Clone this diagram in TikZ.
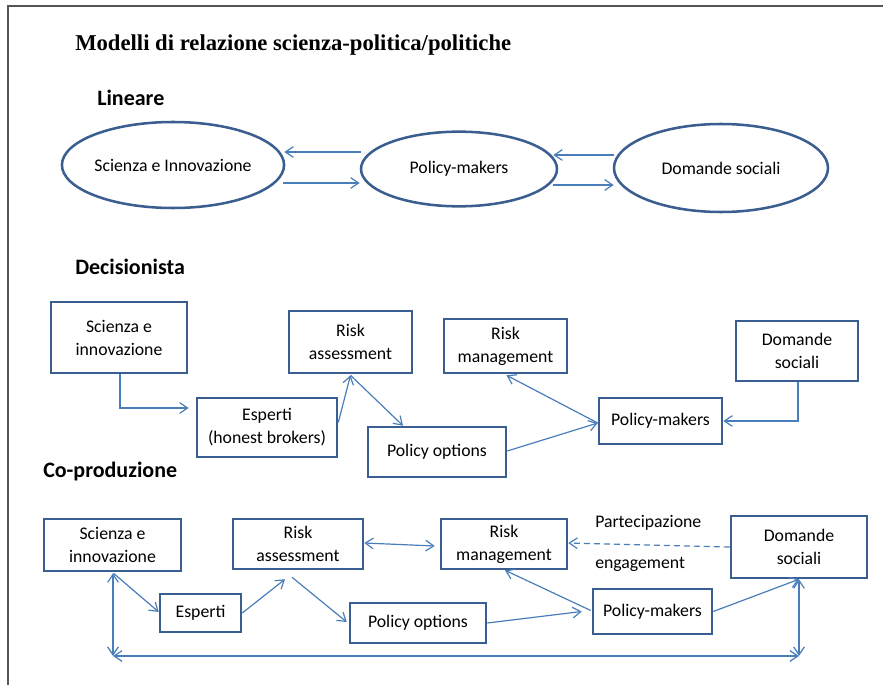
\documentclass[tikz,border=0pt]{standalone}
\usepackage{fontspec}
\setmainfont{Carlito}
\newfontfamily\titlefont{Liberation Serif}
\usetikzlibrary{arrows.meta,shapes.geometric,calc}
\definecolor{boxblue}{HTML}{3B5E91}
\definecolor{arrblue}{HTML}{4A7EBB}
\definecolor{framegray}{HTML}{555555}
\begin{document}
\begin{tikzpicture}[x=0.75pt,y=-0.75pt,
  box/.style={draw=boxblue,line width=1.9pt,inner sep=0pt,align=center,
    font=\fontsize{13.3}{17.3}\selectfont},
  ell/.style={ellipse,draw=boxblue,line width=1.9pt,inner sep=0pt,
    font=\fontsize{13.3}{17.3}\selectfont},
  arr/.style={draw=arrblue,line width=0.9pt,-{Straight Barb[length=6pt,width=8pt]}},
  darr/.style={draw=arrblue,line width=0.9pt,{Straight Barb[length=6pt,width=8pt]}-{Straight Barb[length=6pt,width=8pt]}},
  head/.style={font=\bfseries\fontsize{16.5}{20}\selectfont,anchor=west,inner sep=0pt},
  lbl/.style={font=\fontsize{13.3}{17.3}\selectfont,anchor=west,inner sep=0pt}]
\useasboundingbox (0,0) rectangle (883,685);
% frame
\draw[framegray,line width=1.5pt] (8,685) -- (8,6) -- (883,6);
% title and headings
\node[anchor=west,inner sep=0pt,font=\titlefont\bfseries\fontsize{17}{20}\selectfont] (title) at (75,45) {Modelli di relazione scienza-politica/politiche};
\node[head] (hlin) at (97,98) {Lineare};
\node[head] (hdec) at (75,267) {Decisionista};
\node[head] (hcop) at (43,472) {Co-produzione};
% ---------- Lineare ----------
\node[ell,minimum width=166.5pt,minimum height=64.5pt] (lsci) at (173,165) {Scienza e Innovazione};
\node[ell,minimum width=147pt,minimum height=56pt] (lpm) at (459,169) {Policy-makers};
\node[ell,minimum width=160.5pt,minimum height=66pt] (ldom) at (721,168) {Domande sociali};
\draw[arr] ($(lpm.west)+(1,-17)$) -- ($(lsci.east)+(-1,-13)$);
\draw[arr] ($(lsci.east)+(-2,18)$) -- ($(lpm.west)+(0,14)$);
\draw[arr] ($(ldom.west)+(1,-13)$) -- ($(lpm.east)+(-5,-14)$);
\draw[arr] ($(lpm.east)+(-5,16)$) -- ($(ldom.west)+(1,17)$);
% ---------- Decisionista ----------
\node[box,minimum width=102pt,minimum height=53.25pt] (dsci) at (119,337.5) {Scienza e\\innovazione};
\node[box,minimum width=92.25pt,minimum height=46.5pt] (dra) at (350.5,342) {Risk\\assessment};
\node[box,minimum width=105pt,minimum height=44.25pt] (desp) at (267,427.5) {Esperti\\(honest brokers)};
\node[box,minimum width=103.5pt,minimum height=37.5pt] (dpo) at (437,452) {Policy options};
\node[box,minimum width=92.25pt,minimum height=40.5pt] (drm) at (505.5,346) {Risk\\management};
\node[box,minimum width=92.25pt,minimum height=34.5pt] (dpm) at (660.5,421) {Policy-makers};
\node[box,minimum width=91.5pt,minimum height=45pt] (ddom) at (797,351) {Domande\\sociali};
\draw[arr] ($(dsci.south)+(1,0)$) |- ($(desp.west)+(-7,-19.5)$);
\draw[arr] ($(desp.east)+(0,-5)$) -- ($(dra.south)+(0,1)$);
\draw[arr] ($(dra.south)+(0,1)$) -- ($(dpo.north)+(-34,0)$);
\draw[arr] ($(dpo.east)+(0,-1)$) -- ($(dpm.west)+(0,2)$);
\draw[arr] ($(dpm.west)+(0,2)$) -- ($(drm.south)+(1,1)$);
\draw[arr] ($(ddom.south)+(1,0)$) |- (dpm.east);
% ---------- Co-produzione ----------
\node[box,minimum width=102.75pt,minimum height=39pt] (csci) at (112.5,545) {Scienza e\\innovazione};
\node[box,minimum width=97.5pt,minimum height=37.5pt] (cra) at (298,544) {Risk\\assessment};
\node[box,minimum width=60.75pt,minimum height=28.5pt] (cesp) at (200.5,613) {Esperti};
\node[box,minimum width=102pt,minimum height=30pt] (cpo) at (418,623) {Policy options};
\node[box,minimum width=94.5pt,minimum height=37.5pt] (crm) at (504,544) {Risk\\management};
\node[box,minimum width=89.25pt,minimum height=33.75pt] (cpm) at (652.5,611.5) {Policy-makers};
\node[box,minimum width=102pt,minimum height=46.5pt] (cdom) at (799,547) {Domande\\sociali};
\node[lbl] (part) at (595,523) {Partecipazione};
\node[lbl] (eng) at (595,564) {engagement};
\coordinate (bl) at (113,656);
\coordinate (br) at (799,656);
\draw[darr] ($(cra.east)+(0,-1)$) -- ($(crm.west)+(-5,2)$);
\draw[arr,dash pattern=on 4.5pt off 3pt] (cdom.west) -- ($(crm.east)+(0,-1)$);
\draw[darr] ($(csci.south)+(0.5,1)$) -- (bl);
\draw[darr] (bl) -- (br);
\draw[darr] (cdom.south) -- (br);
\draw[arr] ($(csci.south)+(1,1)$) -- ($(cesp.west)+(0,-1)$);
\draw[arr] (cesp.east) -- ($(cra.south)+(-13,9)$);
\draw[arr] ($(cra.south)+(-6,7)$) -- ($(cpo.west)+(-2,-1)$);
\draw[arr] (cpo.east) -- ($(cpm.west)+(-10,0)$);
\draw[arr] ($(cpm.west)+(-1,-1)$) -- ($(crm.south)+(1,0)$);
\draw[arr] (cpm.east) -- (cdom.south);
\end{tikzpicture}
\end{document}
